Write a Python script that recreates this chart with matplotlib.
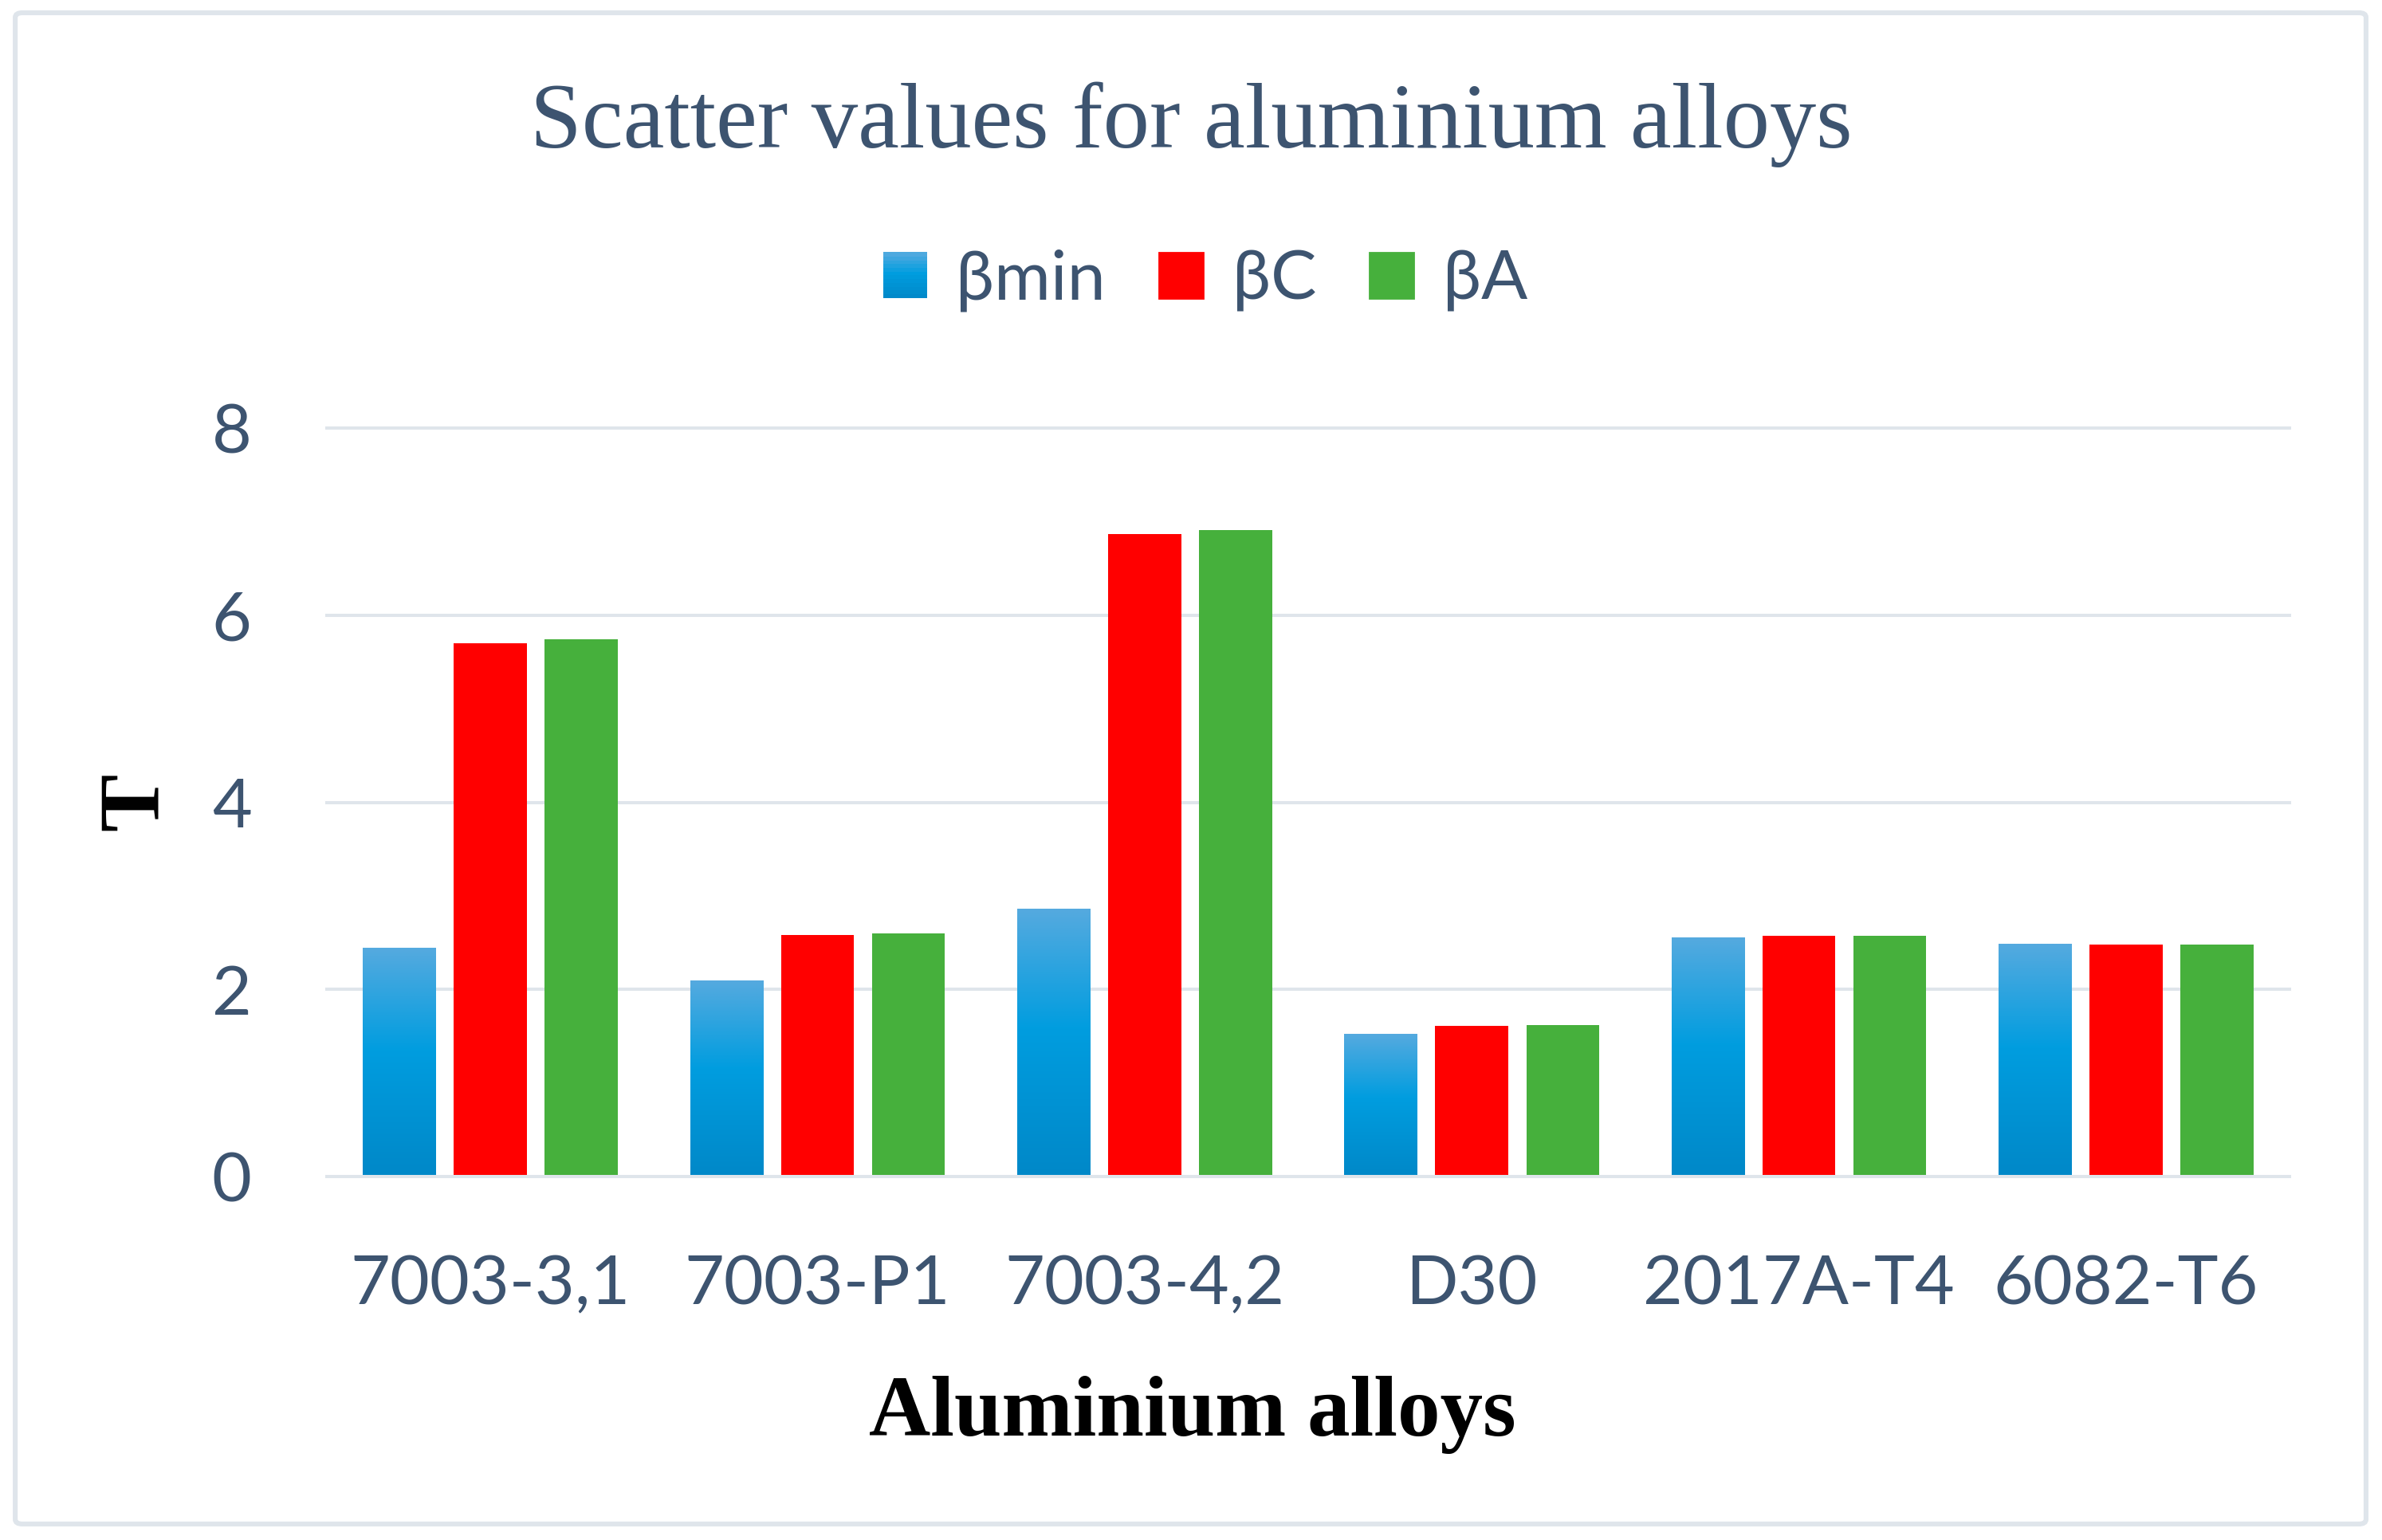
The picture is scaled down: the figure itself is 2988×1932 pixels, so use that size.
import numpy as np
import matplotlib
matplotlib.use('Agg')
import matplotlib.pyplot as plt
from matplotlib.patches import Rectangle, FancyBboxPatch
from matplotlib.colors import LinearSegmentedColormap
from matplotlib.legend_handler import HandlerBase

# data
alloys = ['7003-3,1', '7003-P1', '7003-4,2', 'D30', '2017A-T4', '6082-T6']
beta_min = [2.44, 2.09, 2.86, 1.52, 2.55, 2.48]
beta_c = [5.70, 2.58, 6.87, 1.61, 2.57, 2.48]
beta_a = [5.74, 2.60, 6.91, 1.62, 2.57, 2.48]
series_names = ['βmin', 'βC', 'βA']
y_ticks = [0, 2, 4, 6, 8]

txt_col = '#3d5470'
grid_col = '#dfe5eb'
red = '#ff0000'
green = '#46b03c'
blue_cmap = LinearSegmentedColormap.from_list(
    'excel_blue', [(0.0, '#0088c8'), (0.55, '#009ddf'), (1.0, '#55aadf')])

sans = ['Lato', 'DejaVu Sans']
serif = ['Liberation Serif', 'DejaVu Serif']

fig = plt.figure(figsize=(14.94, 9.66), dpi=200)
fig.patch.set_facecolor('white')

# outer chart border
fig.patches.append(FancyBboxPatch((0.0064, 0.0104), 0.9869, 0.9813,
                                  boxstyle='round,pad=0,rounding_size=0.003',
                                  transform=fig.transFigure, fill=False,
                                  ec=grid_col, lw=2.2, zorder=0))

ax = fig.add_axes([0.1372, 0.236, 0.824, 0.486])

x = np.arange(len(alloys))
w = 0.223
step = 0.278

# gradient blue bars, one gradient per bar
grad = np.linspace(0, 1, 256).reshape(-1, 1)
for xi, v in zip(x - step, beta_min):
    ax.imshow(grad, cmap=blue_cmap, origin='lower', aspect='auto',
              extent=[xi - w / 2, xi + w / 2, 0, v], zorder=2,
              interpolation='bilinear')
ax.bar(x, beta_c, w, color=red, zorder=2)
ax.bar(x + step, beta_a, w, color=green, zorder=2)

ax.set_xlim(-0.5, len(alloys) - 0.5)
ax.set_ylim(0, 8)

for t in y_ticks:
    ax.axhline(t, color=grid_col, lw=1.45, zorder=0 if t else 3, clip_on=False)

for s in ax.spines.values():
    s.set_visible(False)
ax.set_xticks(x)
ax.set_xticklabels(alloys, family=sans, fontsize=31, color=txt_col)
ax.set_yticks(y_ticks)
ax.set_yticklabels([str(t) for t in y_ticks], family=sans, fontsize=31, color=txt_col)
ax.tick_params(axis='both', length=0)
ax.tick_params(axis='x', pad=35)
ax.tick_params(axis='y', pad=34)

fig.text(0.5, 0.9042, 'Scatter values for aluminium alloys', ha='center',
         va='baseline', family=serif, fontsize=42, color=txt_col)
fig.text(0.5007, 0.0678, 'Aluminium alloys', ha='center', va='baseline',
         family=serif, fontsize=38.5, fontweight='bold', color='black')
fig.text(171 / 2988, 1 - 1006 / 1932, 'T', rotation=90, ha='center',
         va='center', family=serif, fontsize=39, fontweight='bold', color='black')


class GradHandler(HandlerBase):
    def create_artists(self, legend, orig, xd, yd, width, height, fontsize, trans):
        n = 12
        arts = []
        for i in range(n):
            r = Rectangle((0, -yd + height * i / n), width, height / n + 0.3,
                          facecolor=blue_cmap((i + 0.5) / n), edgecolor='none',
                          transform=trans)
            arts.append(r)
        return arts


h_blue = Rectangle((0, 0), 1, 1, color='#009ddf')
h_red = Rectangle((0, 0), 1, 1, color=red)
h_green = Rectangle((0, 0), 1, 1, color=green)
leg = fig.legend([h_blue, h_red, h_green], series_names, loc='center',
                 bbox_to_anchor=(0.506, 1 - 352 / 1932), ncol=3, frameon=False,
                 prop={'family': sans, 'size': 31}, handlelength=0.64,
                 handleheight=0.64, handletextpad=0.42, columnspacing=0.78,
                 handler_map={h_blue: GradHandler()})
for t in leg.get_texts():
    t.set_color(txt_col)

fig.savefig('out.png', dpi=200, facecolor='white')
